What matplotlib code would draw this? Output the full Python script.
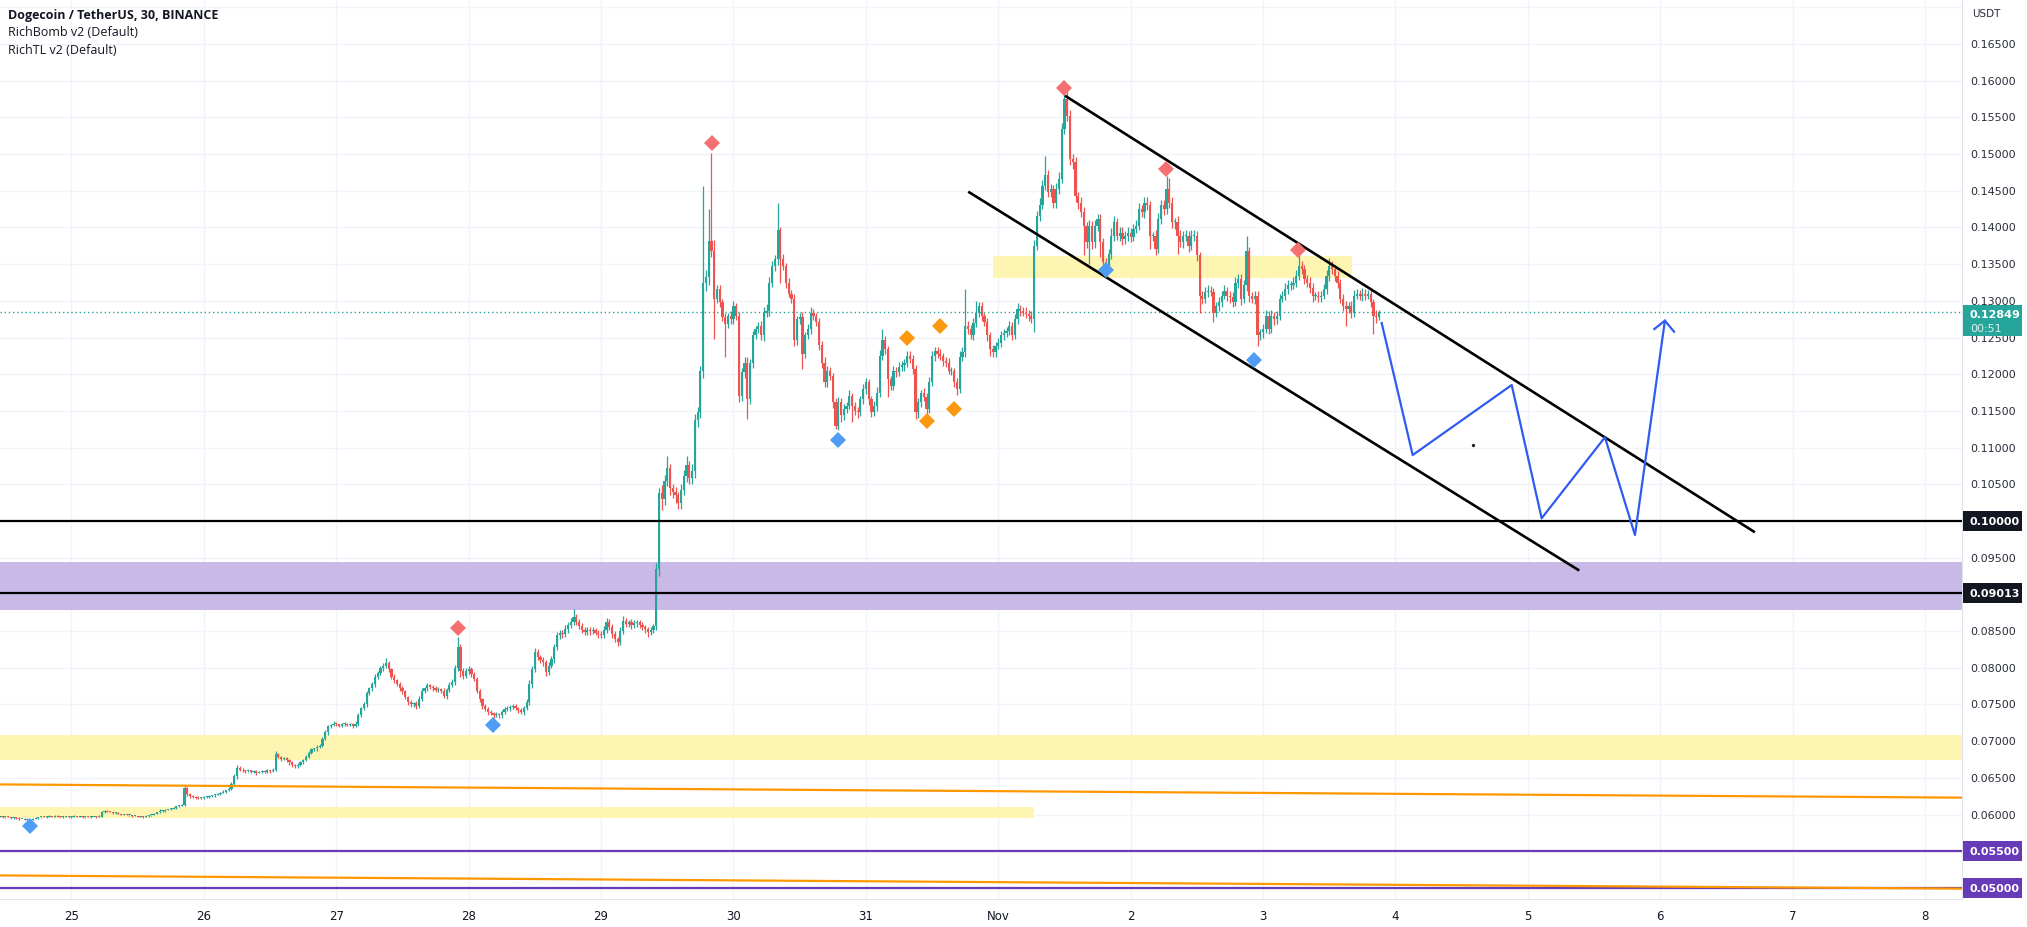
import numpy as np
import matplotlib
matplotlib.use("Agg")
import matplotlib.pyplot as plt
from matplotlib.patches import Rectangle

plt.rcParams['font.family'] = ['Open Sans', 'DejaVu Sans']

# ---------------- data ----------------
title_lines = ["Dogecoin / TetherUS, 30, BINANCE", "RichBomb v2 (Default)", "RichTL v2 (Default)"]
day_labels = ["25", "26", "27", "28", "29", "30", "31", "Nov", "2", "3", "4", "5", "6", "7", "8"]
# 30-minute candles, first candle = Oct 24 11:00 (offset in half-hours from Oct 25 00:00)
first_candle_offset = -26
candles_per_day = 48
first_open = 0.0597
# closes in units of 1e-4 USDT
closes_e4 = [
    597, 596, 597, 596, 595, 596, 595, 594, 594, 593,
    594, 593, 594, 595, 596, 597, 596, 597, 598, 597,
    598, 597, 596, 597, 597, 596, 597, 598, 597, 597,
    596, 597, 596, 597, 597, 596, 597, 603, 605, 604,
    603, 602, 602, 601, 600, 600, 599, 599, 598, 598,
    597, 597, 596, 598, 599, 600, 601, 603, 605, 605,
    606, 607, 608, 609, 611, 612, 613, 636, 628, 625,
    624, 623, 622, 623, 624, 624, 625, 626, 627, 628,
    630, 631, 633, 635, 642, 652, 664, 661, 660, 659,
    660, 658, 659, 657, 658, 659, 658, 660, 659, 661,
    682, 679, 676, 677, 674, 671, 668, 666, 668, 671,
    674, 679, 684, 689, 690, 692, 694, 703, 712, 720,
    722, 724, 723, 721, 723, 724, 722, 723, 721, 724,
    736, 745, 750, 766, 772, 778, 788, 793, 799, 803,
    806, 798, 788, 783, 778, 772, 768, 760, 753, 750,
    752, 748, 758, 769, 772, 776, 774, 773, 770, 771,
    769, 762, 770, 777, 781, 800, 828, 796, 789, 795,
    798, 792, 785, 769, 757, 748, 744, 740, 738, 736,
    737, 735, 740, 744, 745, 747, 748, 745, 743, 740,
    745, 753, 778, 798, 821, 815, 810, 808, 794, 803,
    812, 828, 844, 848, 846, 853, 858, 863, 869, 863,
    857, 852, 849, 852, 850, 851, 848, 846, 844, 852,
    862, 856, 846, 839, 835, 850, 864, 860, 862, 858,
    861, 862, 858, 855, 853, 849, 851, 857, 935, 1038,
    1030, 1055, 1072, 1045, 1040, 1035, 1025, 1042, 1062, 1076,
    1058, 1068, 1138, 1148, 1205, 1325, 1332, 1382, 1368, 1303,
    1316, 1298, 1278, 1268, 1280, 1275, 1293, 1280, 1171, 1203,
    1216, 1166, 1216, 1253, 1262, 1266, 1253, 1284, 1286, 1325,
    1348, 1357, 1396, 1357, 1348, 1325, 1310, 1303, 1246, 1275,
    1278, 1228, 1253, 1262, 1284, 1280, 1271, 1240, 1216, 1189,
    1205, 1198, 1162, 1130, 1162, 1144, 1153, 1157, 1171, 1157,
    1150, 1148, 1166, 1180, 1189, 1166, 1148, 1157, 1175, 1225,
    1246, 1234, 1194, 1184, 1205, 1203, 1210, 1212, 1216, 1225,
    1221, 1207, 1148, 1162, 1175, 1169, 1153, 1189, 1225, 1232,
    1228, 1225, 1218, 1216, 1205, 1205, 1189, 1180, 1223, 1230,
    1266, 1262, 1253, 1270, 1284, 1293, 1280, 1271, 1253, 1234,
    1230, 1239, 1243, 1253, 1256, 1259, 1266, 1253, 1275, 1289,
    1286, 1284, 1282, 1280, 1275, 1375, 1416, 1430, 1457, 1471,
    1448, 1452, 1434, 1452, 1466, 1534, 1575, 1552, 1493, 1489,
    1443, 1434, 1421, 1402, 1380, 1402, 1380, 1402, 1412, 1380,
    1353, 1348, 1364, 1389, 1407, 1389, 1393, 1384, 1389, 1393,
    1387, 1398, 1402, 1425, 1421, 1434, 1430, 1389, 1389, 1371,
    1412, 1430, 1425, 1452, 1434, 1407, 1407, 1389, 1380, 1389,
    1389, 1375, 1389, 1389, 1362, 1307, 1303, 1312, 1314, 1312,
    1284, 1293, 1298, 1307, 1314, 1307, 1305, 1298, 1325, 1330,
    1303, 1321, 1368, 1307, 1303, 1307, 1253, 1257, 1262, 1280,
    1262, 1280, 1275, 1280, 1303, 1307, 1316, 1321, 1321, 1325,
    1334, 1348, 1343, 1330, 1325, 1318, 1307, 1307, 1305, 1307,
    1316, 1334, 1348, 1343, 1334, 1325, 1303, 1293, 1289, 1293,
    1284, 1307, 1309, 1307, 1309, 1307, 1309, 1298, 1280, 1278,
    1285,
]
# upper wicks above the body, units of 1e-4
upper_wick_e4 = [
    1, 1, 0, 1, 1, 0, 1, 1, 0, 1,
    1, 0, 1, 1, 1, 0, 1, 1, 1, 0,
    1, 1, 0, 1, 1, 0, 1, 1, 0, 1,
    1, 0, 1, 1, 0, 1, 2, 2, 1, 1,
    1, 0, 1, 1, 0, 1, 1, 0, 1, 1,
    0, 1, 1, 1, 1, 0, 1, 1, 2, 1,
    1, 1, 1, 1, 1, 1, 2, 4, 2, 1,
    1, 1, 2, 1, 1, 1, 2, 1, 1, 2,
    1, 2, 1, 2, 2, 3, 4, 2, 2, 1,
    2, 1, 2, 1, 1, 2, 1, 2, 1, 2,
    5, 2, 1, 2, 1, 1, 2, 1, 2, 2,
    1, 2, 2, 2, 1, 3, 2, 3, 3, 2,
    2, 3, 2, 1, 2, 2, 1, 2, 2, 3,
    3, 2, 3, 3, 2, 3, 4, 3, 4, 3,
    7, 3, 2, 3, 2, 2, 3, 2, 2, 3,
    2, 3, 3, 4, 2, 3, 2, 3, 2, 3,
    2, 3, 3, 4, 3, 4, 14, 4, 3, 4,
    4, 3, 2, 3, 2, 2, 3, 2, 2, 2,
    3, 2, 3, 2, 3, 2, 2, 3, 2, 2,
    3, 4, 5, 4, 6, 4, 3, 4, 3, 5,
    4, 5, 5, 4, 4, 5, 4, 5, 11, 4,
    3, 4, 3, 4, 3, 4, 3, 3, 4, 5,
    6, 4, 3, 4, 3, 5, 6, 4, 3, 4,
    4, 3, 3, 4, 3, 3, 4, 3, 8, 7,
    11, 8, 16, 6, 5, 6, 5, 8, 7, 12,
    6, 9, 8, 7, 6, 132, 10, 43, 120, 15,
    6, 5, 4, 5, 4, 6, 7, 4, 5, 6,
    7, 8, 5, 6, 4, 5, 6, 7, 10, 8,
    6, 5, 38, 5, 7, 4, 6, 5, 7, 5,
    6, 7, 5, 6, 8, 5, 4, 6, 5, 7,
    6, 5, 4, 6, 7, 5, 6, 5, 7, 4,
    5, 6, 5, 7, 6, 4, 5, 6, 7, 8,
    16, 6, 5, 4, 6, 5, 7, 6, 5, 7,
    6, 5, 6, 5, 4, 6, 5, 7, 6, 5,
    5, 6, 4, 5, 6, 5, 4, 6, 8, 7,
    50, 6, 5, 7, 16, 6, 5, 4, 6, 5,
    6, 5, 7, 6, 5, 6, 7, 5, 7, 8,
    6, 5, 7, 5, 6, 8, 7, 10, 8, 27,
    8, 7, 6, 8, 9, 8, 10, 12, 8, 7,
    7, 6, 8, 7, 6, 8, 7, 8, 7, 6,
    5, 6, 7, 10, 8, 6, 7, 8, 6, 7,
    6, 7, 8, 8, 6, 8, 7, 6, 5, 7,
    8, 8, 7, 18, 16, 7, 6, 8, 7, 6,
    7, 6, 7, 8, 6, 5, 6, 7, 8, 6,
    5, 6, 7, 6, 8, 5, 6, 7, 8, 7,
    6, 7, 21, 6, 5, 7, 6, 5, 7, 8,
    6, 7, 5, 6, 7, 6, 8, 7, 6, 7,
    8, 18, 7, 6, 5, 7, 6, 5, 7, 6,
    7, 8, 11, 7, 6, 7, 5, 6, 7, 6,
    7, 8, 7, 6, 8, 7, 6, 8, 5, 7,
    3,
]
# lower wicks below the body, units of 1e-4
lower_wick_e4 = [
    1, 1, 1, 0, 1, 1, 1, 1, 0, 1,
    1, 2, 1, 0, 1, 1, 0, 1, 1, 1,
    0, 1, 1, 1, 0, 1, 1, 0, 1, 1,
    1, 1, 0, 1, 1, 1, 0, 1, 1, 1,
    0, 1, 1, 0, 1, 1, 0, 1, 1, 0,
    1, 1, 1, 0, 1, 1, 1, 0, 1, 1,
    1, 0, 1, 1, 1, 1, 1, 2, 3, 2,
    1, 2, 1, 1, 2, 1, 1, 1, 2, 1,
    1, 1, 2, 1, 2, 2, 3, 2, 2, 3,
    1, 2, 2, 3, 1, 2, 2, 1, 2, 1,
    2, 2, 3, 2, 2, 3, 3, 2, 2, 2,
    2, 1, 2, 2, 2, 3, 2, 2, 2, 3,
    2, 2, 3, 2, 2, 3, 2, 2, 3, 2,
    3, 3, 2, 3, 3, 3, 4, 3, 3, 4,
    3, 4, 3, 4, 3, 3, 4, 3, 4, 3,
    3, 4, 3, 3, 4, 3, 3, 4, 3, 3,
    4, 3, 4, 3, 3, 4, 5, 8, 4, 3,
    4, 4, 3, 4, 3, 4, 3, 4, 3, 4,
    3, 3, 4, 3, 3, 4, 3, 3, 4, 3,
    4, 3, 4, 5, 4, 5, 4, 6, 5, 4,
    4, 5, 4, 5, 5, 4, 5, 4, 5, 5,
    4, 5, 4, 4, 5, 4, 4, 5, 4, 4,
    4, 5, 5, 4, 5, 4, 4, 5, 4, 5,
    4, 5, 4, 4, 5, 7, 4, 4, 5, 10,
    15, 8, 7, 9, 8, 10, 9, 8, 7, 9,
    8, 7, 9, 10, 8, 10, 12, 10, 8, 55,
    6, 7, 6, 45, 5, 6, 7, 6, 9, 7,
    8, 27, 6, 7, 5, 6, 7, 8, 6, 7,
    6, 7, 8, 32, 6, 7, 5, 6, 7, 6,
    7, 21, 6, 5, 7, 6, 5, 7, 8, 6,
    7, 6, 8, 5, 6, 9, 7, 6, 5, 22,
    6, 7, 5, 6, 7, 8, 6, 5, 7, 6,
    6, 7, 25, 6, 5, 7, 6, 5, 7, 6,
    5, 6, 9, 7, 6, 5, 8, 6, 5, 7,
    6, 5, 7, 6, 5, 6, 7, 8, 6, 5,
    6, 7, 5, 6, 5, 6, 7, 5, 8, 9,
    7, 6, 5, 6, 7, 5, 6, 7, 5, 6,
    6, 5, 6, 7, 5, 18, 6, 7, 5, 6,
    7, 6, 8, 7, 6, 5, 6, 7, 8, 9,
    8, 9, 7, 40, 8, 30, 9, 8, 7, 20,
    7, 4, 6, 7, 8, 6, 7, 8, 6, 7,
    7, 6, 5, 6, 7, 8, 6, 18, 8, 9,
    6, 7, 8, 6, 7, 8, 9, 25, 7, 8,
    7, 8, 6, 7, 8, 23, 7, 6, 7, 6,
    13, 6, 7, 6, 5, 7, 8, 6, 5, 7,
    8, 6, 7, 8, 6, 7, 14, 6, 7, 6,
    7, 6, 8, 7, 6, 5, 6, 7, 6, 5,
    6, 5, 6, 7, 6, 7, 8, 6, 7, 6,
    5, 6, 7, 6, 7, 8, 6, 7, 23, 6,
    7, 6, 5, 6, 7, 6, 5, 7, 25, 8,
    4,
]

# signal markers (day offset from Oct 25 00:00, price)
red_days = [4.835, 7.498, 8.267, 9.266, 2.916]
red_prices = [0.1515, 0.1590, 0.1480, 0.1369, 0.0854]
blue_days = [-0.310, 3.184, 5.792, 7.813, 8.934]
blue_prices = [0.0585, 0.0722, 0.1111, 0.1342, 0.1219]
orange_days = [6.313, 6.560, 6.459, 6.666]
orange_prices = [0.1249, 0.1266, 0.1136, 0.1153]

# drawings
upper_channel_days = [7.504, 12.715]
upper_channel_prices = [0.15796, 0.09846]
lower_channel_days = [6.773, 11.388]
lower_channel_prices = [0.14488, 0.09325]
path_days = [9.896, 10.130, 10.878, 11.104, 11.582, 11.809, 12.035]
path_prices = [0.12698, 0.10899, 0.11853, 0.10037, 0.11141, 0.09809, 0.12730]
arrow_days = [11.955, 12.035, 12.104]
arrow_prices = [0.12616, 0.12730, 0.12580]
dot_day, dot_price = 10.583, 0.11036
orange_line_a = ([-0.54, 14.28], [0.0641, 0.0623])
orange_line_b = ([-0.54, 14.28], [0.0517, 0.0499])
black_levels = [0.10000, 0.09013]
purple_levels = [0.05500, 0.05000]
purple_zone = (0.08791, 0.09437)
yellow_full_zone = (0.06747, 0.07084)
yellow_low_zone = (-0.54, 7.27, 0.05953, 0.06098)
yellow_top_zone = (6.960, 9.669, 0.13311, 0.13605)
last_price = 0.12849
countdown = "00:51"
scale_ticks = [round(0.050 + 0.005 * k, 3) for k in range(24)]

# ---------------- figure ----------------
W, H = 2027, 928
fig = plt.figure(figsize=(W / 100, H / 100), dpi=100)
fig.patch.set_facecolor('white')
ax = fig.add_axes([0, 28 / H, 1962 / W, 900 / H])
x_lo, x_hi = -0.540, 14.279
y_lo, y_hi = 0.048487, 0.171137
ax.set_xlim(x_lo, x_hi)
ax.set_ylim(y_lo, y_hi)

UP, DOWN = '#26a69a', '#ef5350'
TXT = '#131722'
GRID = '#f0f3fa'

# grid
ax.set_yticks(np.arange(0.050, 0.1701, 0.005))
ax.set_xticks(np.arange(len(day_labels)))
ax.set_xticklabels(day_labels, fontsize=8.5, color=TXT, family=['DejaVu Sans'])
ax.tick_params(axis='x', length=0, pad=7)
ax.tick_params(axis='y', length=0, labelleft=False, labelright=False)
ax.grid(True, color=GRID, lw=1, zorder=0)
ax.set_axisbelow(True)
for s in ['top', 'left']:
    ax.spines[s].set_visible(False)
ax.spines['right'].set_color('#e0e3eb')
ax.spines['bottom'].set_color('#e0e3eb')

# zones
ax.axhspan(*purple_zone, color='#c8b9e6', lw=0, zorder=1)
ax.axhspan(*yellow_full_zone, color='#fff5b3', lw=0, zorder=1)
ax.fill_between([yellow_low_zone[0], yellow_low_zone[1]], yellow_low_zone[2], yellow_low_zone[3],
                color='#fff5b3', lw=0, zorder=1)
ax.fill_between([yellow_top_zone[0], yellow_top_zone[1]], yellow_top_zone[2], yellow_top_zone[3],
                color='#fff5b3', lw=0, zorder=1)

# candles
closes = np.array(closes_e4) / 1e4
opens = np.concatenate([[first_open], closes[:-1]])
highs = np.maximum(opens, closes) + np.array(upper_wick_e4) / 1e4
lows = np.minimum(opens, closes) - np.array(lower_wick_e4) / 1e4
t = (np.arange(len(closes)) + first_candle_offset) / candles_per_day
up = closes >= opens
cols = np.where(up, UP, DOWN)
ax.vlines(t, lows, highs, colors=cols, lw=0.9, zorder=3)
body_lo = np.minimum(opens, closes)
body_h = np.maximum(np.abs(closes - opens), 0.00013)
ax.bar(t, body_h, width=0.8 / candles_per_day, bottom=body_lo, color=cols, lw=0, zorder=3.1)

# horizontal levels and slanted lines
for lv in black_levels:
    ax.axhline(lv, color='#000000', lw=1.6, zorder=4)
for lv in purple_levels:
    ax.axhline(lv, color='#673ab7', lw=1.6, zorder=4)
ax.plot(*orange_line_a, color='#ff9800', lw=1.6, zorder=4)
ax.plot(*orange_line_b, color='#ff9800', lw=1.6, zorder=4)
ax.axhline(last_price, color=UP, lw=1, ls=(0, (1, 2)), zorder=2)

# channel
ax.plot(upper_channel_days, upper_channel_prices, color='#000000', lw=1.9, zorder=4.5,
        solid_capstyle='butt')
ax.plot(lower_channel_days, lower_channel_prices, color='#000000', lw=1.9, zorder=4.5,
        solid_capstyle='butt')
# projected path
ax.plot(path_days, path_prices, color='#2f5cf0', lw=1.6, zorder=4.6)
ax.plot(arrow_days, arrow_prices, color='#2f5cf0', lw=1.6, zorder=4.6)
ax.plot([dot_day], [dot_price], marker='o', ms=1.4, color='#222222', zorder=4.6)

# markers
ax.plot(red_days, red_prices, ls='none', marker='D', ms=8.3, color='#f57171', mew=0, zorder=5)
ax.plot(blue_days, blue_prices, ls='none', marker='D', ms=8.3, color='#4c9df3', mew=0, zorder=5)
ax.plot(orange_days, orange_prices, ls='none', marker='D', ms=8.3, color='#fb980e', mew=0, zorder=5)

# title / indicator names
fig.text(8 / W, 1 - 16 / H, title_lines[0], fontsize=9, fontweight='bold', color=TXT,
         va='center', ha='left')
fig.text(8 / W, 1 - 33 / H, title_lines[1], fontsize=9, color=TXT, va='center', ha='left')
fig.text(8 / W, 1 - 50 / H, title_lines[2], fontsize=9, color=TXT, va='center', ha='left')

# right price scale
ax2 = fig.add_axes([1962 / W, 28 / H, 65 / W, 900 / H], zorder=5)
ax2.set_xlim(0, 65)
ax2.set_ylim(y_lo, y_hi)
ax2.axis('off')
ppx = (y_hi - y_lo) / 900.0
tagged = black_levels + purple_levels
for p in scale_ticks:
    if p > 0.1651:
        continue
    if any(abs(p - lv) < 12 * ppx for lv in tagged):
        continue  # hidden behind a level tag
    ax2.text(8, p, f"{p:.5f}", fontsize=8, color='#2a2e39', va='center', ha='left',
             family=['DejaVu Sans'])
ax2.text(10, y_hi - 14 * ppx, "USDT", fontsize=7.5, color='#2a2e39', va='center', ha='left',
         family=['DejaVu Sans'])


def tag(price, color, label):
    ax2.add_patch(Rectangle((1, price - 10 * ppx), 59, 20 * ppx, color=color, lw=0, zorder=6))
    ax2.text(8, price, label, fontsize=8, color='white', fontweight='bold', va='center',
             ha='left', zorder=7, family=['DejaVu Sans'])


for lv in black_levels:
    tag(lv, '#131722', f"{lv:.5f}")
for lv in purple_levels:
    tag(lv, '#673ab7', f"{lv:.5f}")

# last price tag with countdown
top = y_hi - 306 * ppx
bot = y_hi - 337 * ppx
ax2.add_patch(Rectangle((1, bot), 59, top - bot, color=UP, lw=0, zorder=6))
ax2.text(8, y_hi - 315 * ppx, f"{last_price:.5f}", fontsize=8, color='white', fontweight='bold',
         va='center', ha='left', zorder=7, family=['DejaVu Sans'])
ax2.text(8, y_hi - 328.5 * ppx, countdown, fontsize=8, color='#d8f2ef', va='center', ha='left',
         zorder=7, family=['DejaVu Sans'])

fig.savefig("out.png", dpi=100, facecolor='white')
